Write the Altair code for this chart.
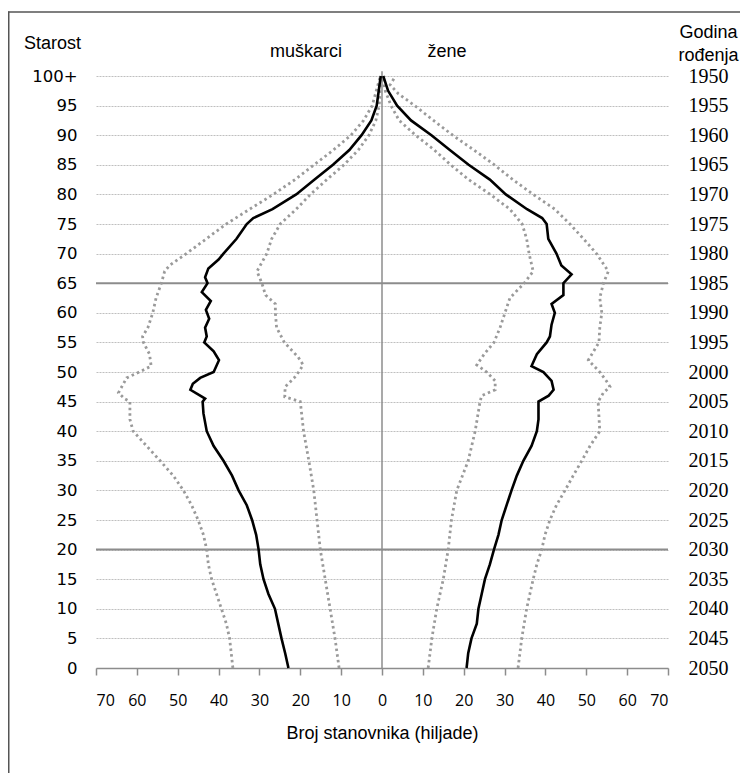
import json
import altair as alt
import pandas as pd

# ---------------- data (thousands of people, by age) ----------------
male_mid_age = [0, 2.5, 5, 7.5, 10, 12.5, 15, 17.5, 20, 22.5, 25, 27.5, 30, 32.5, 35, 37.5, 40, 43, 45, 45.5,
                46, 47, 48, 49, 50, 52, 53.5, 55, 56, 57.5, 59, 60.5, 62, 63.5, 65, 66, 67.5, 69, 70, 72.5,
                75, 76, 77.5, 80, 82.5, 85, 87.5, 90, 92.5, 95, 97.5, 100]
male_mid = [22.9, 23.7, 24.6, 25.4, 26.2, 27.8, 29.0, 29.8, 30.2, 30.8, 31.8, 33.1, 35.1, 36.7, 38.8, 41.2, 42.9, 43.7, 43.9, 43.3,
            44.5, 46.9, 46.3, 44.5, 41.2, 39.9, 41.2, 43.5, 42.9, 43.3, 42.3, 43.1, 41.9, 44.1, 42.7, 43.3, 42.5, 40.0, 38.8, 35.6,
            33.1, 31.5, 26.8, 21.0, 16.5, 12.0, 8.0, 5.0, 2.6, 1.3, 0.8, 0.3]

male_low_age = [0, 5, 10, 15, 20, 25, 30, 35, 40, 45, 45.8, 47.5, 49, 50, 51.2, 52.5, 55, 57.5, 60, 61.5,
                63, 65, 67, 68, 70, 72.5, 75, 77.5, 80, 82.5, 85, 87.5, 90, 92.5, 95, 97.5, 100]
male_low = [10.5, 11.5, 12.7, 13.9, 15.1, 15.9, 16.7, 17.9, 19.2, 20.0, 23.8, 23.7, 21.5, 20.4, 19.3, 20.5, 23.9, 25.8, 26.1, 26.1,
            28.5, 29.4, 30.6, 29.8, 28.2, 27.0, 24.9, 21.0, 17.5, 13.5, 9.3, 5.8, 3.2, 1.5, 0.7, 0.4, 0.2]

male_high_age = [0, 2.5, 5, 7.5, 10, 12.5, 15, 17.5, 20, 22.5, 25, 27.5, 30, 32.5, 35, 37.5, 40, 42, 45, 45.5,
                 46.5, 47.5, 49, 50, 51, 53, 55, 56, 57.5, 60, 62.5, 65, 67, 68, 70, 72.5, 75, 77.5, 80, 82.5,
                 85, 87.5, 90, 92.5, 95, 97.5, 100]
male_high = [36.5, 36.9, 37.3, 38.1, 39.3, 40.5, 41.7, 42.5, 42.9, 43.7, 45.0, 46.6, 48.6, 51.1, 54.3, 57.6, 60.9, 61.7, 61.7, 63.0,
             64.5, 63.7, 62.5, 59.4, 56.5, 56.9, 58.4, 58.6, 57.3, 56.1, 55.3, 54.0, 53.2, 52.0, 47.9, 43.0, 38.1, 32.4, 26.6, 21.3,
             16.6, 11.9, 7.6, 4.5, 2.4, 1.4, 0.4]

female_mid_age = [0, 2.5, 5, 7.5, 10, 12.5, 15, 17.5, 20, 22.5, 25, 27.5, 30, 32.5, 35, 37.5, 40, 42, 45, 46,
                  47, 48.5, 50, 51, 53, 55, 56, 58, 60, 61.5, 63, 65, 66.5, 68, 70, 72.5, 75, 76, 77.5, 80,
                  82.5, 85, 87.5, 90, 92.5, 95, 97.5, 100]
female_mid = [20.7, 21.1, 21.9, 23.2, 23.6, 24.4, 25.2, 26.4, 27.4, 28.5, 29.3, 30.5, 31.7, 33.0, 34.6, 36.6, 37.9, 38.3, 38.3, 40.8,
              42.0, 41.5, 39.5, 36.6, 37.9, 40.3, 41.1, 41.5, 42.3, 41.5, 44.4, 44.4, 46.4, 43.9, 42.7, 40.7, 40.3, 39.2, 35.5, 30.3,
              26.4, 21.2, 16.6, 12.1, 7.1, 3.7, 1.5, 0.3]

female_low_age = [0, 5, 10, 15, 20, 25, 30, 35, 40, 45, 46, 47, 48.5, 50, 51.2, 53, 55, 57.5, 60, 62.5,
                  65, 67, 70, 72.5, 75, 77.5, 80, 82.5, 85, 87.5, 90, 92.5, 95, 97.5, 100]
female_low = [11.3, 12.2, 13.4, 15.0, 16.2, 17.0, 18.3, 21.1, 22.8, 24.0, 24.4, 27.7, 27.7, 25.6, 23.2, 25.0, 27.4, 28.9, 30.1, 31.3,
              34.8, 37.0, 36.0, 35.4, 34.3, 31.3, 26.5, 21.2, 16.8, 12.8, 8.2, 4.2, 2.2, 0.8, 0.1]

female_high_age = [0, 5, 10, 12.5, 15, 17.5, 20, 22.5, 25, 27.5, 30, 32.5, 35, 37.5, 40, 45, 46.5, 47.5, 48.5, 50,
                   52, 55, 57.5, 60, 62.5, 65, 67, 70, 72.5, 75, 77.5, 80, 82.5, 85, 87.5, 90, 92.5, 95, 97, 98.5, 100]
female_high = [33.3, 34.2, 35.4, 36.2, 37.0, 37.9, 39.1, 39.9, 41.1, 42.7, 44.8, 46.8, 48.9, 50.9, 53.3, 52.9, 54.2, 55.8, 54.9, 53.3,
               50.5, 53.1, 53.3, 53.8, 53.3, 54.2, 55.4, 52.5, 49.3, 46.0, 42.3, 37.0, 32.0, 27.5, 22.5, 17.3, 12.6, 8.0, 4.0, 2.0, 3.3]

age_ticks = [0, 5, 10, 15, 20, 25, 30, 35, 40, 45, 50, 55, 60, 65, 70, 75, 80, 85, 90, 95, 100]
age_labels = ["0", "5", "10", "15", "20", "25", "30", "35", "40", "45", "50", "55", "60", "65", "70",
              "75", "80", "85", "90", "95", "100+"]
birth_years = ["2050", "2045", "2040", "2035", "2030", "2025", "2020", "2015", "2010", "2005", "2000",
               "1995", "1990", "1985", "1980", "1975", "1970", "1965", "1960", "1955", "1950"]
x_ticks = [-70, -60, -50, -40, -30, -20, -10, 0, 10, 20, 30, 40, 50, 60, 70]
marked_ages = [20, 65]
sex_labels = ["muškarci", "žene"]
sex_label_x = [-18.6, 15.9]
sex_label_y = [103.2, 103.2]

# ---------------- tables ----------------
rows = []
def add(sex, kind, ages, vals):
    sign = -1 if sex == "m" else 1
    for a, v in zip(ages, vals):
        rows.append({"series": sex + "_" + kind, "kind": kind, "age": a, "value": sign * v})

add("m", "mid", male_mid_age, male_mid)
add("m", "low", male_low_age, male_low)
add("m", "high", male_high_age, male_high)
add("f", "mid", female_mid_age, female_mid)
add("f", "low", female_low_age, female_low)
add("f", "high", female_high_age, female_high)
df = pd.DataFrame(rows)

ref_df = pd.DataFrame({"age": marked_ages, "x0": [-70] * len(marked_ages), "x1": [70] * len(marked_ages)})
zero_df = pd.DataFrame({"x": [0], "y0": [0], "y1": [100.8]})
lab_df = pd.DataFrame({"t": sex_labels, "x": sex_label_x, "y": sex_label_y})
frame_df = pd.DataFrame({"f0": [0], "f1": [1]})

W, H = 572, 592

xs = alt.Scale(domain=[-70, 70], nice=False, zero=False)
ys = alt.Scale(domain=[0, 100], nice=False, zero=False)

left_axis = alt.Axis(
    values=age_ticks, orient="left",
    labelExpr=f"{json.dumps(age_labels)}[indexof({json.dumps(age_ticks)}, datum.value)]",
    grid=True, gridColor="#b8b8b8", gridDash=[2, 1], gridWidth=0.9,
    domain=False, ticks=False, labelPadding=19,
    labelFont="DejaVu Sans", labelFontSize=16.5, labelColor="black",
    title="Starost", titleAngle=0, titleX=-44, titleY=-33, titleAlign="center",
    titleBaseline="middle", titleFont="Liberation Sans", titleFontSize=18,
    titleFontWeight="normal", titleColor="black",
)
right_axis = alt.Axis(
    values=age_ticks, orient="right",
    labelExpr=f"{json.dumps(birth_years)}[indexof({json.dumps(age_ticks)}, datum.value)]",
    grid=False, domain=False, ticks=False, labelAlign="center", labelPadding=40,
    labelFont="Liberation Serif", labelFontSize=20, labelColor="black",
    title=["Godina", "rođenja"], titleAngle=0, titleX=40, titleY=-39, titleAlign="center",
    titleBaseline="alphabetic", titleLineHeight=23, titleFont="Liberation Sans", titleFontSize=18,
    titleFontWeight="normal", titleColor="black",
)
x_axis = alt.Axis(
    values=x_ticks, labelExpr="'' + abs(datum.value)", grid=False, orient="bottom",
    domainColor="#8c8c8c", domainWidth=1.5, tickColor="#8c8c8c", tickWidth=1.5, tickSize=7,
    labelPadding=17, labelFont="Open Sans", labelFontSize=16, labelColor="black",
    title="Broj stanovnika (hiljade)", titleFont="Liberation Sans", titleFontSize=18,
    titleFontWeight="normal", titleColor="black", titleY=65, titleBaseline="middle",
)

refs = alt.Chart(ref_df).mark_rule(color="#8c8c8c", strokeWidth=2).encode(
    y=alt.Y("age:Q", scale=ys, axis=right_axis),
    x=alt.X("x0:Q", scale=xs, axis=x_axis),
    x2="x1:Q",
)
zero = alt.Chart(zero_df).mark_rule(color="#8c8c8c", strokeWidth=1.5).encode(
    x=alt.X("x:Q", scale=xs, axis=None),
    y=alt.Y("y0:Q", scale=ys, axis=None),
    y2="y1:Q",
)
dotted = alt.Chart(df).transform_filter("datum.kind != 'mid'").mark_line(
    color="#9a9a9a", strokeWidth=2.8, strokeDash=[2.5, 3.2]
).encode(
    x=alt.X("value:Q", scale=xs, axis=None),
    y=alt.Y("age:Q", scale=ys, axis=None),
    detail="series:N",
    order="age:Q",
)
solid = alt.Chart(df).transform_filter("datum.kind == 'mid'").mark_line(
    color="black", strokeWidth=2.6
).encode(
    x=alt.X("value:Q", scale=xs, axis=None),
    y=alt.Y("age:Q", scale=ys, axis=left_axis),
    detail="series:N",
    order="age:Q",
)
texts = alt.Chart(lab_df).mark_text(
    font="Liberation Sans", fontSize=18, baseline="alphabetic", align="center", color="black"
).encode(
    x=alt.X("x:Q", scale=xs, axis=None),
    y=alt.Y("y:Q", scale=ys, axis=None),
    text="t:N",
)
# outer picture frame (top and left edges)
frame_top = alt.Chart(frame_df).mark_rule(color="#555555", strokeWidth=1.5).encode(
    x=alt.X("f0:Q", scale=alt.Scale(domain=[0, 1], range=[-88, 644]), axis=None),
    x2="f1:Q",
    y=alt.value(-64),
)
frame_left = alt.Chart(frame_df).mark_rect(color="#555555").encode(
    x=alt.value(-88), x2=alt.value(-86.5), y=alt.value(-64.5), y2=alt.value(700)
)

chart = alt.layer(refs, zero, dotted, solid, texts, frame_top, frame_left).resolve_axis(
    x="independent", y="independent"
).resolve_scale(x="independent").properties(
    width=W, height=H,
    autosize=alt.AutoSizeParams(type="none"),
    padding={"left": 88, "top": 68, "right": 72, "bottom": 105},
).configure_view(strokeWidth=0)

chart.save("out.html", embed_options={"renderer": "svg", "actions": False})
